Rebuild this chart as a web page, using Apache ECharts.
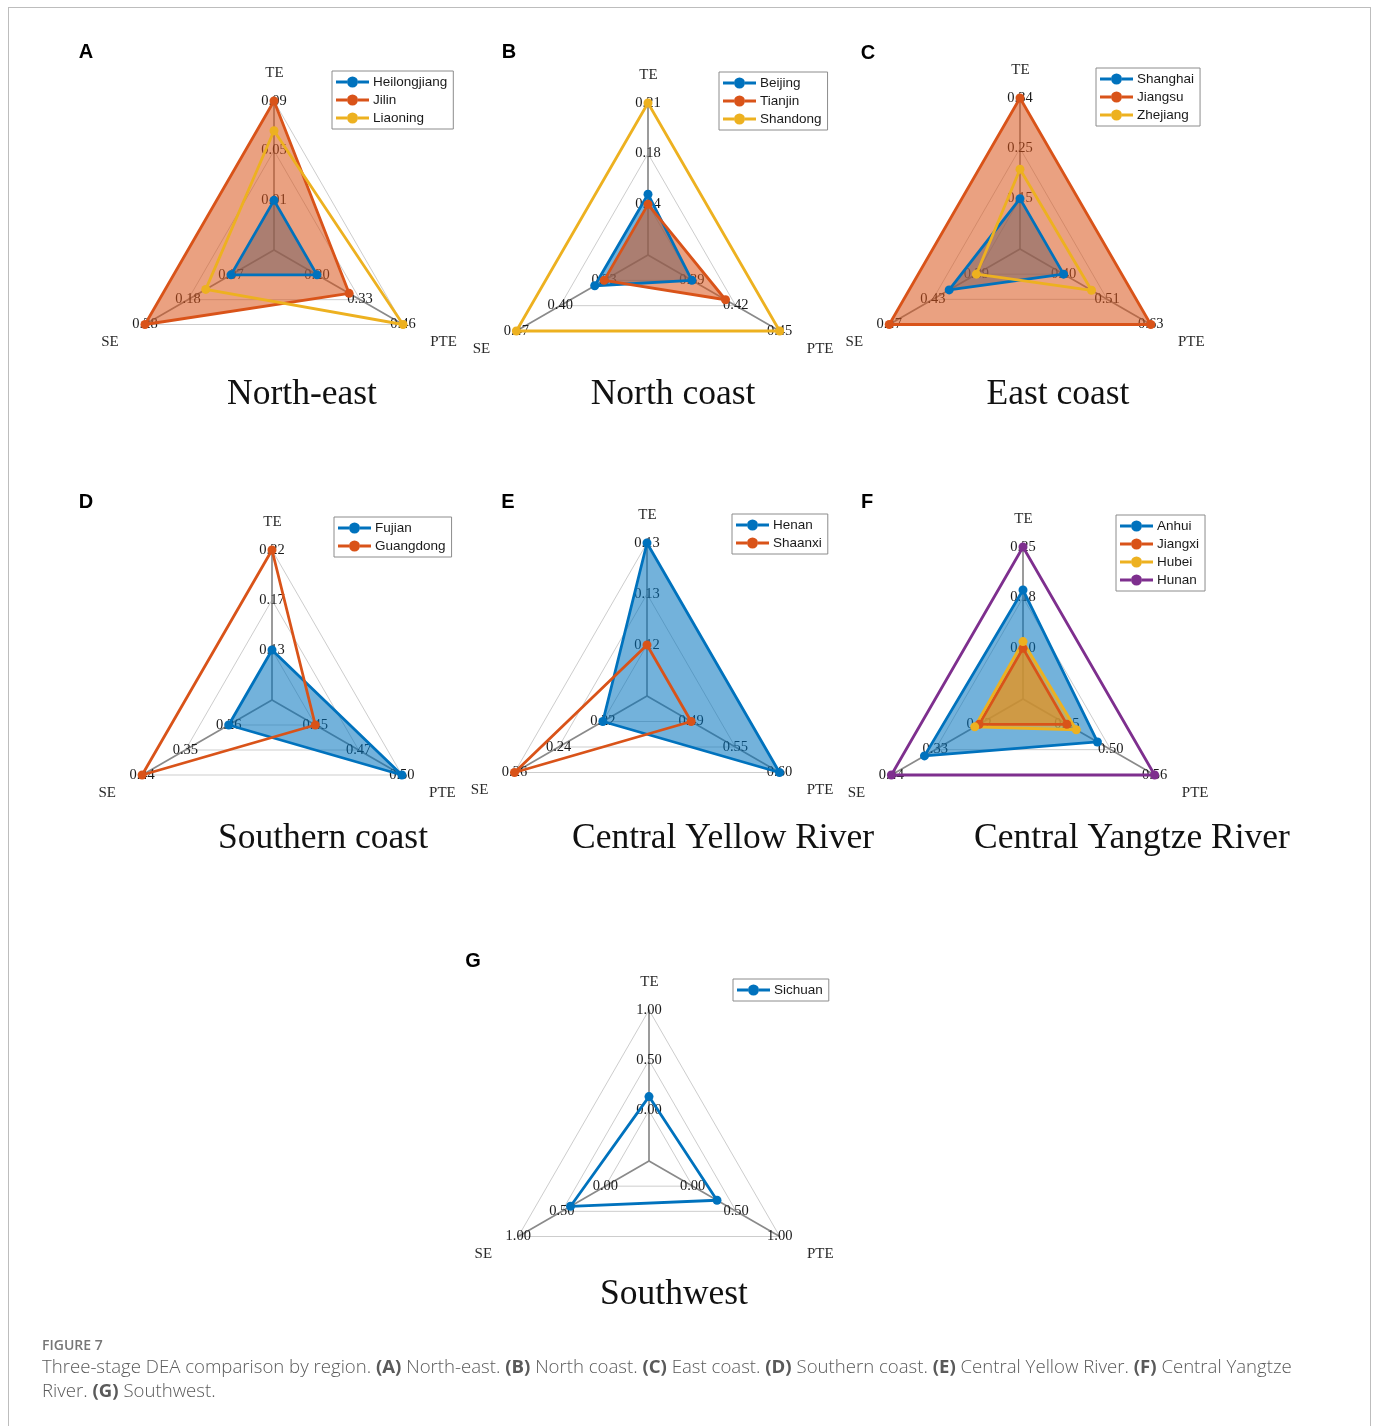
<!DOCTYPE html>
<html>
<head>
<meta charset="utf-8">
<script src="https://cdn.jsdelivr.net/npm/echarts@6.0.0/dist/echarts.min.js"></script>
<style>
  html, body { margin: 0; padding: 0; background: #fff; }
  #wrap { position: relative; width: 1377px; height: 1426px; overflow: hidden; }
  #chart { position: absolute; left: 0; top: 0; width: 1377px; height: 1426px; }
  #frame { position: absolute; left: 8px; top: 7px; width: 1361px; height: 1440px; border: 1px solid #bdbdbd; pointer-events: none; }
  #fig { position: absolute; left: 42px; top: 1335px; font: 600 14px "Open Sans", sans-serif; color: #777; }
  #cap { position: absolute; left: 42px; top: 1354px; width: 1300px; font: 300 18.6px/24px "Open Sans", sans-serif; color: #5a5a5a; }
  #cap b { font-weight: 700; color: #5a5a5a; }
</style>
</head>
<body>
<div id="wrap">
  <div id="chart"></div>
  <div id="frame"></div>
  <div id="fig">FIGURE 7</div>
  <div id="cap">Three-stage DEA comparison by region. <b>(A)</b> North-east. <b>(B)</b> North coast. <b>(C)</b> East coast. <b>(D)</b> Southern coast. <b>(E)</b> Central Yellow River. <b>(F)</b> Central Yangtze River. <b>(G)</b> Southwest.</div>
</div>
<script>
// axes, order = TE (top), SE (lower left), PTE (lower right)
const axesNames = ['TE', 'SE', 'PTE'];

// A North-east
const heilongjiang = [0.010, 0.072, 0.200];
const jilin = [0.090, 0.280, 0.297];
const liaoning = [0.066, 0.133, 0.460];
// B North coast
const beijing = [0.148, 0.345, 0.390];
const tianjin = [0.141, 0.330, 0.413];
const shandong = [0.211, 0.470, 0.450];
// C East coast
const shanghai = [0.150, 0.415, 0.398];
const jiangsu = [0.342, 0.470, 0.626];
const zhejiang = [0.206, 0.390, 0.471];
// D Southern coast
const fujian = [0.128, 0.260, 0.498];
const guangdong = [0.218, 0.440, 0.448];
// E Central Yellow River
const henan = [0.134, 0.220, 0.601];
const shaanxi = [0.120, 0.260, 0.492];
// F Central Yangtze River
const anhui = [0.189, 0.357, 0.485];
const jiangxi = [0.102, 0.220, 0.446];
const hubei = [0.112, 0.231, 0.458];
const hunan = [0.253, 0.440, 0.558];
// G Southwest (single region, axes fixed to 0..1)
const sichuan = [0.14, 0.40, 0.28];
const southwestLimits = [0, 1];

const C = { blue: '#0072BD', orange: '#D95319', yellow: '#EDB120', purple: '#7E2F8E' };

const panels = [
  { letter: 'A', title: 'North-east', center: [274, 250], r: 149, letterPos: [86, 52], titlePos: [302, 395], legend: [332, 71],
    rows: [['Heilongjiang', heilongjiang, C.blue, true], ['Jilin', jilin, C.orange, true], ['Liaoning', liaoning, C.yellow, false]] },
  { letter: 'B', title: 'North coast', center: [648, 255], r: 152, letterPos: [509, 52], titlePos: [673, 395], legend: [719, 72],
    rows: [['Beijing', beijing, C.blue, true], ['Tianjin', tianjin, C.orange, true], ['Shandong', shandong, C.yellow, false]] },
  { letter: 'C', title: 'East coast', center: [1020, 249], r: 151, letterPos: [868, 53], titlePos: [1058, 395], legend: [1096, 68],
    rows: [['Shanghai', shanghai, C.blue, true], ['Jiangsu', jiangsu, C.orange, true], ['Zhejiang', zhejiang, C.yellow, false]] },
  { letter: 'D', title: 'Southern coast', center: [272, 700], r: 150, letterPos: [86, 502], titlePos: [323, 839], legend: [334, 517],
    rows: [['Fujian', fujian, C.blue, true], ['Guangdong', guangdong, C.orange, false]] },
  { letter: 'E', title: 'Central Yellow River', center: [647, 696], r: 153, letterPos: [508, 502], titlePos: [723, 839], legend: [732, 514],
    rows: [['Henan', henan, C.blue, true], ['Shaanxi', shaanxi, C.orange, false]] },
  { letter: 'F', title: 'Central Yangtze River', center: [1023, 699], r: 152, letterPos: [867, 502], titlePos: [1132, 839], legend: [1116, 515],
    rows: [['Anhui', anhui, C.blue, true], ['Jiangxi', jiangxi, C.orange, true], ['Hubei', hubei, C.yellow, true], ['Hunan', hunan, C.purple, false]] },
  { letter: 'G', title: 'Southwest', center: [649, 1161], r: 151, letterPos: [473, 961], titlePos: [674, 1295], legend: [733, 979],
    rows: [['Sichuan', sichuan, C.blue, false]], limits: southwestLimits }
];

// label of a ring value, centre (first tick) left blank
function tickFmt(v, i) {
  if (i === 0) return '';
  return (Math.round(v * 100 + 1e-6) / 100).toFixed(2);
}

const legendIcon = 'path://M0,4 H11 V7 H0 Z M22,4 H33 V7 H22 Z M11,5.5 A5.5,5.5 0 1 1 22,5.5 A5.5,5.5 0 1 1 11,5.5 Z';
const serif = '"Liberation Serif", "Times New Roman", serif';
const sans = '"Liberation Sans", Arial, sans-serif';

let radars = [], series = [], legends = [], graphics = [];

panels.forEach(function (p, k) {
  // like the matlab spider plot: data min on first ring, data max on outer ring, one step offset at centre
  let indicator = axesNames.map(function (name, j) {
    let lo, hi;
    if (p.limits) {
      lo = p.limits[0]; hi = p.limits[1];
    } else {
      let vals = p.rows.map(function (row) { return row[1][j]; });
      lo = Math.min.apply(null, vals); hi = Math.max.apply(null, vals);
    }
    let step = (hi - lo) / 2;
    return { name: name, min: lo - step, max: hi };
  });

  radars.push({
    center: p.center,
    radius: p.r,
    startAngle: 90,
    splitNumber: 3,
    shape: 'polygon',
    indicator: indicator,
    axisNameGap: 36,
    axisName: { color: '#2a2a2a', fontFamily: serif, fontSize: 15, padding: [0, -5, -16, -4] },
    axisLine: { lineStyle: { color: '#8a8a8a', width: 1.7 } },
    splitLine: { lineStyle: { color: '#cdcdcd', width: 1 } },
    splitArea: { show: false },
    axisTick: { show: false },
    axisLabel: {
      show: true, margin: 0, align: 'center', verticalAlign: 'middle',
      color: '#1a1a1a', fontFamily: serif, fontSize: 14.5, formatter: tickFmt
    }
  });

  // lines with markers (on top)
  p.rows.forEach(function (row) {
    series.push({
      type: 'radar', radarIndex: k, name: row[0], z: 4,
      symbol: 'circle', symbolSize: 9,
      lineStyle: { color: row[2], width: 2.8 },
      itemStyle: { color: row[2] },
      data: [{ name: row[0], value: row[1] }]
    });
  });
  // translucent fills underneath
  p.rows.forEach(function (row) {
    if (!row[3]) return;
    series.push({
      type: 'radar', radarIndex: k, name: row[0], z: 3, silent: true,
      symbol: 'none',
      lineStyle: { width: 0, opacity: 0 },
      itemStyle: { color: row[2] },
      areaStyle: { color: row[2], opacity: 0.55 },
      data: [{ name: row[0], value: row[1] }]
    });
  });

  legends.push({
    data: p.rows.map(function (row) { return { name: row[0], icon: legendIcon, itemStyle: { color: row[2] } }; }),
    orient: 'vertical', left: p.legend[0], top: p.legend[1],
    itemWidth: 33, itemHeight: 11, itemGap: 4,
    padding: [4, 6, 4, 4],
    borderColor: '#8c8c8c', borderWidth: 1, backgroundColor: '#fff',
    selectedMode: false,
    textStyle: { fontFamily: sans, fontSize: 13.5, color: '#1a1a1a', padding: [0, 0, 0, -1] }
  });

  graphics.push({
    type: 'text', x: p.letterPos[0], y: p.letterPos[1],
    style: { text: p.letter, font: 'bold 20px ' + sans, fill: '#000', align: 'center', verticalAlign: 'middle', textAlign: 'center', textVerticalAlign: 'middle' }
  });
  graphics.push({
    type: 'text', x: p.titlePos[0], y: p.titlePos[1],
    style: { text: p.title, font: '35.5px ' + serif, fill: '#111', align: 'center', verticalAlign: 'middle', textAlign: 'center', textVerticalAlign: 'middle' }
  });
});

const myChart = echarts.init(document.getElementById('chart'), null, { renderer: 'canvas' });
myChart.setOption({
  animation: false,
  backgroundColor: '#fff',
  radar: radars,
  legend: legends,
  graphic: graphics,
  series: series
});
</script>
</body>
</html>
